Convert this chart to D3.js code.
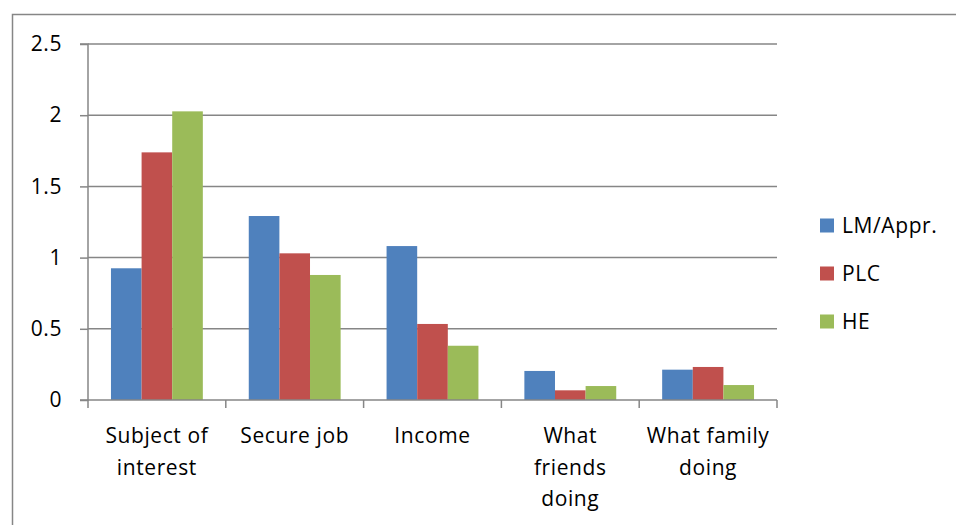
<!DOCTYPE html>
<html><head><meta charset="utf-8">
<script src="https://cdn.jsdelivr.net/npm/d3@7"></script>
<style>body{margin:0;background:#fff}svg{display:block}text{font-family:"Open Sans",Lato,sans-serif;fill:#000;letter-spacing:0.6px}</style>
</head><body><svg id="c" width="956" height="525"></svg>
<script>
const categories = [["Subject of","interest"],["Secure job"],["Income"],["What","friends","doing"],["What family","doing"]];
const seriesNames = ["LM/Appr.","PLC","HE"];
const lmAppr = [0.925, 1.292, 1.081, 0.204, 0.213];
const plc    = [1.739, 1.030, 0.534, 0.068, 0.232];
const he     = [2.027, 0.878, 0.381, 0.098, 0.105];
const yTicks = [0, 0.5, 1, 1.5, 2, 2.5];
const yTickLabels = ["0","0.5","1","1.5","2","2.5"];
const colors = ["#4F81BD","#C0504D","#9BBB59"];
const series = [lmAppr, plc, he];

(function(){
const svg = d3.select("#c");
const pL = 88, pR = 777, pT = 44, pB = 400;
const gray = "#868686";
const fs = 21;

svg.append("rect").attr("x",12.5).attr("y",14.5).attr("width",960).attr("height",530)
  .attr("fill","none").attr("stroke",gray).attr("stroke-width",1.5);

const x0 = d3.scaleBand().domain(d3.range(categories.length)).range([pL,pR]).paddingInner(0).paddingOuter(0);
const y = d3.scaleLinear().domain([0,2.5]).range([pB,pT]);
const x1 = d3.scaleBand().domain(d3.range(3)).range([0,x0.bandwidth()]).paddingInner(0).paddingOuter(0.75);

svg.append("g").selectAll("line").data(yTicks.filter(d=>d>0)).join("line")
  .attr("x1",pL).attr("x2",pR).attr("y1",d=>y(d)).attr("y2",d=>y(d))
  .attr("stroke",gray).attr("stroke-width",1.5);

series.forEach((vals,si)=>{
  svg.append("g").selectAll("rect").data(vals).join("rect")
    .attr("x",(d,i)=>x0(i)+x1(si)).attr("width",x1.bandwidth())
    .attr("y",d=>y(d)).attr("height",d=>pB-y(d))
    .attr("fill",colors[si]);
});

const yAxis = d3.axisLeft(y).tickValues(yTicks).tickFormat((d,i)=>yTickLabels[i]).tickSize(8).tickPadding(18);
const gy = svg.append("g").attr("transform",`translate(${pL},0)`).call(yAxis);
gy.select(".domain").attr("stroke",gray).attr("stroke-width",1.5).attr("d",`M-8,${pT}H0V${pB}H-8`);
gy.selectAll(".tick line").attr("stroke",gray).attr("stroke-width",1.5);
gy.selectAll(".tick text").attr("font-size",fs).attr("font-family","'Open Sans', sans-serif").attr("fill","#000");

svg.append("line").attr("x1",pL).attr("x2",pR).attr("y1",pB).attr("y2",pB).attr("stroke",gray).attr("stroke-width",1.5);
const bounds = d3.range(categories.length+1).map(i=> i<categories.length ? x0(i) : x0(i-1)+x0.bandwidth());
svg.append("g").selectAll("line").data(bounds).join("line")
  .attr("x1",d=>d).attr("x2",d=>d).attr("y1",pB).attr("y2",pB+8).attr("stroke",gray).attr("stroke-width",1.5);

categories.forEach((lines,i)=>{
  const cx = x0(i)+x0.bandwidth()/2;
  const t = svg.append("text").attr("x",cx).attr("y",443).attr("text-anchor","middle").attr("font-size",fs);
  lines.forEach((ln,j)=>t.append("tspan").attr("x",cx).attr("dy",j===0?0:31.5).text(ln));
});

const lg = svg.append("g");
seriesNames.forEach((n,i)=>{
  const cy = 225.5 + i*48;
  lg.append("rect").attr("x",820).attr("y",cy-7).attr("width",14).attr("height",14).attr("fill",colors[i]);
  lg.append("text").attr("x",842).attr("y",cy+7.5).attr("font-size",fs).text(n);
});
})();
</script></body></html>
